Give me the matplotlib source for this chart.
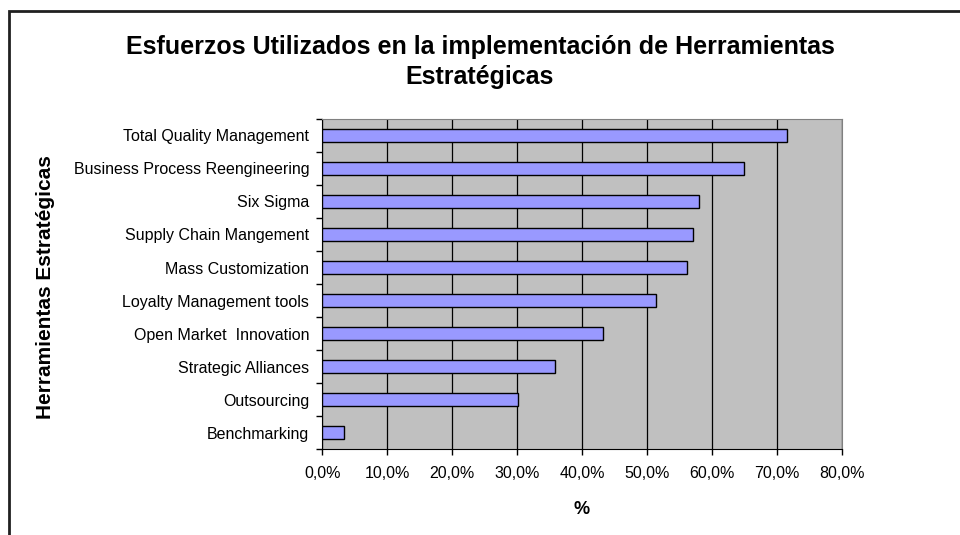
import matplotlib
matplotlib.use("Agg")
import matplotlib.pyplot as plt
from matplotlib.patches import Rectangle
from matplotlib.ticker import MultipleLocator, FuncFormatter, FixedLocator

# data (bottom to top)
herramientas = ['Benchmarking', 'Outsourcing', 'Strategic Alliances',
                'Open Market  Innovation', 'Loyalty Management tools',
                'Mass Customization', 'Supply Chain Mangement',
                'Six Sigma', 'Business Process Reengineering',
                'Total Quality Management']
esfuerzo = [3.4, 30.1, 35.8, 43.3, 51.4, 56.1, 57.1, 58.1, 65.0, 71.6]

plt.rcParams['font.family'] = ['Liberation Sans', 'DejaVu Sans']

fig = plt.figure(figsize=(9.6, 5.35), dpi=100)
ax = fig.add_axes([0.3358, 0.1607, 0.5409, 0.6169])

ax.set_facecolor('#C0C0C0')
ax.barh(range(len(herramientas)), esfuerzo, height=0.37,
        color='#9999FF', edgecolor='black', lw=1, zorder=3)

ax.set_xlim(0, 80)
ax.set_ylim(-0.5, len(herramientas) - 0.5)
ax.xaxis.set_major_locator(MultipleLocator(10))
ax.xaxis.set_major_formatter(FuncFormatter(lambda v, p: f'{v:.1f}%'.replace('.', ',')))
ax.grid(axis='x', color='black', lw=0.9, zorder=1)

# category labels centred, ticks between categories
ax.set_yticks(range(len(herramientas)))
ax.set_yticklabels(herramientas, fontsize=11.5)
ax.tick_params(axis='y', length=0, pad=9.5)
ax.yaxis.set_minor_locator(FixedLocator([i - 0.5 for i in range(len(herramientas) + 1)]))
ax.tick_params(axis='y', which='minor', length=4, width=1, color='black')
ax.tick_params(axis='x', length=4, width=1, labelsize=11.5, pad=8.5)

for s in ['top', 'right']:
    ax.spines[s].set_color('#808080')
for s in ['left', 'bottom']:
    ax.spines[s].set_color('black')

ax.set_xlabel('%', fontsize=13, fontweight='bold')
ax.xaxis.set_label_coords(0.5, -0.158)
ax.set_ylabel('Herramientas Estratégicas', fontsize=15, fontweight='bold')
ax.yaxis.set_label_coords(-0.515, 0.49)

fig.text(0.5, 0.884, 'Esfuerzos Utilizados en la implementación de Herramientas\nEstratégicas',
         ha='center', va='center', fontsize=18, fontweight='bold', linespacing=1.32)

# chart border
fig.patches.append(Rectangle((9 / 960, -0.05), 1.1, 1 - 11 / 535 + 0.05,
                             transform=fig.transFigure, fill=False,
                             edgecolor='#202020', lw=2))

fig.savefig('out.png', dpi=100)
